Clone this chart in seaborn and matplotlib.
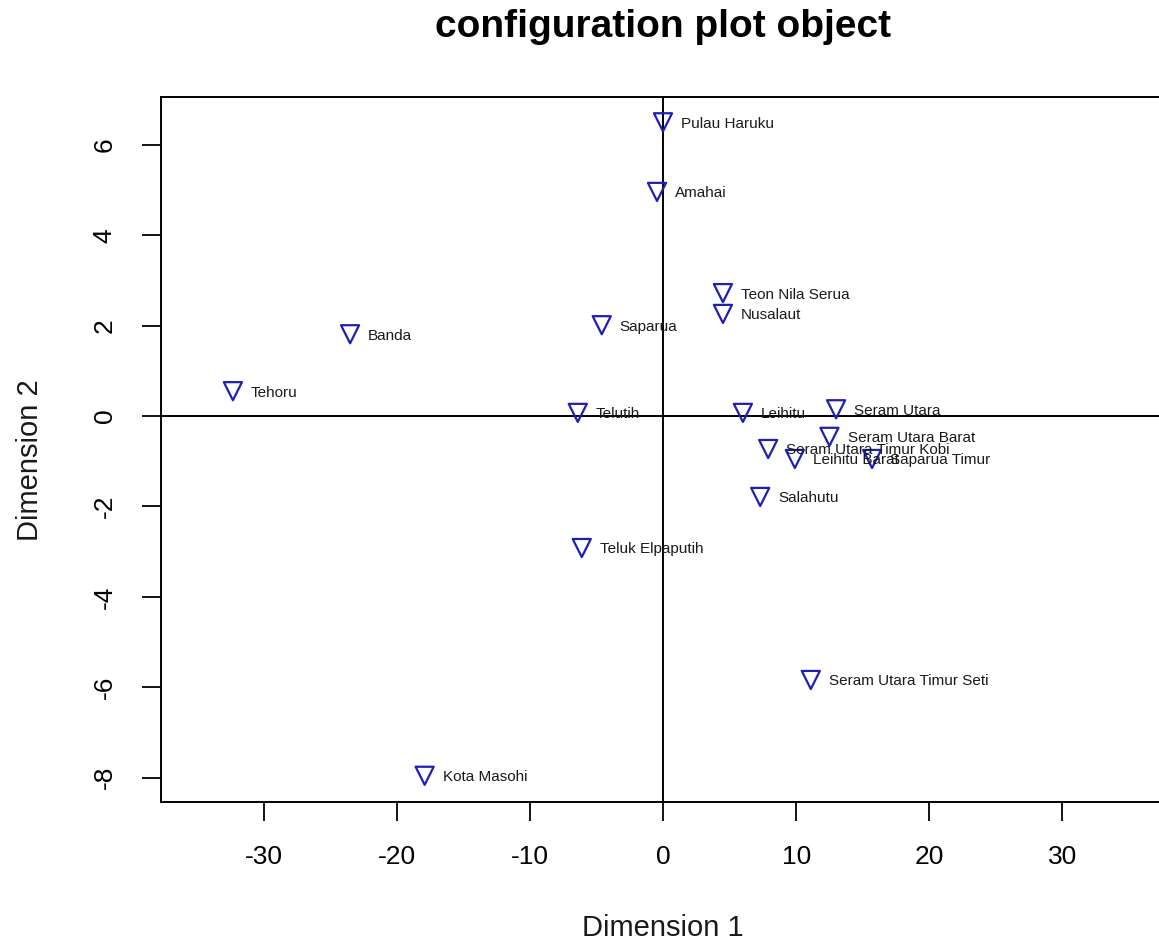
import matplotlib
matplotlib.use("Agg")
import matplotlib.pyplot as plt
import seaborn as sns
import pandas as pd

names = ["Pulau Haruku", "Amahai", "Teon Nila Serua", "Nusalaut", "Saparua",
         "Banda", "Tehoru", "Telutih", "Leihitu", "Seram Utara",
         "Seram Utara Barat", "Seram Utara Timur Kobi", "Leihitu Barat",
         "Saparua Timur", "Salahutu", "Teluk Elpaputih",
         "Seram Utara Timur Seti", "Kota Masohi"]
dim1 = [0.0, -0.45, 4.5, 4.5, -4.6, -23.5, -32.3, -6.4, 6.0, 13.0,
        12.5, 7.9, 9.9, 15.7, 7.3, -6.1, 11.1, -17.9]
dim2 = [6.5, 4.96, 2.72, 2.26, 2.01, 1.81, 0.55, 0.07, 0.07, 0.15,
        -0.46, -0.73, -0.95, -0.95, -1.79, -2.92, -5.84, -7.96]
xticks = [-30, -20, -10, 0, 10, 20, 30]
yticks = [-8, -6, -4, -2, 0, 2, 4, 6]

df = pd.DataFrame({"name": names, "D1": dim1, "D2": dim2})

sns.set_style("white")
plt.rcParams["font.family"] = ["Liberation Sans", "DejaVu Sans"]
plt.rcParams["text.color"] = "black"

fig = plt.figure(figsize=(11.59, 9.43), dpi=100)
ax = fig.add_axes([161 / 1159, 1 - 802 / 943, 1004 / 1159, 705 / 943])

ax.axhline(0, color="black", lw=1.4, zorder=1)
ax.axvline(0, color="black", lw=1.4, zorder=1)

sns.scatterplot(data=df, x="D1", y="D2", marker="v", s=170,
                facecolors="none", edgecolor="#1f1fb0", linewidth=1.6,
                ax=ax, zorder=3)

for n, x, y in zip(names, dim1, dim2):
    ax.annotate(n, (x, y), xytext=(13, -1), textcoords="offset points",
                ha="left", va="center", fontsize=11, color="#1a1a1a", zorder=4)

ax.set_xlim(-37.7, 37.7)
ax.set_ylim(-8.54, 7.06)
ax.set_xticks(xticks)
ax.set_yticks(yticks)
ax.set_xticklabels([str(t) for t in xticks])
ax.set_yticklabels([str(t) for t in yticks], rotation=90, va="center")
ax.tick_params(axis="both", direction="out", length=14, width=1.3,
               labelsize=19, pad=17, colors="black", bottom=True, left=True)
ax.tick_params(axis="y", pad=18)
ax.set_xlabel("")
ax.set_ylabel("")
for sp in ax.spines.values():
    sp.set_color("black")
    sp.set_linewidth(1.4)

fig.text(663 / 1159, 1 - 928 / 943, "Dimension 1", ha="center", va="center",
         fontsize=21, color="#1a1a1a")
fig.text(30 / 1159, 1 - 460 / 943, "Dimension 2", ha="center", va="center",
         fontsize=21, rotation=90, color="#1a1a1a")
fig.text(663 / 1159, 1 - 27 / 943, "configuration plot object", ha="center",
         va="center", fontsize=28, fontweight="bold", color="black")

fig.savefig("out.png", dpi=100)
